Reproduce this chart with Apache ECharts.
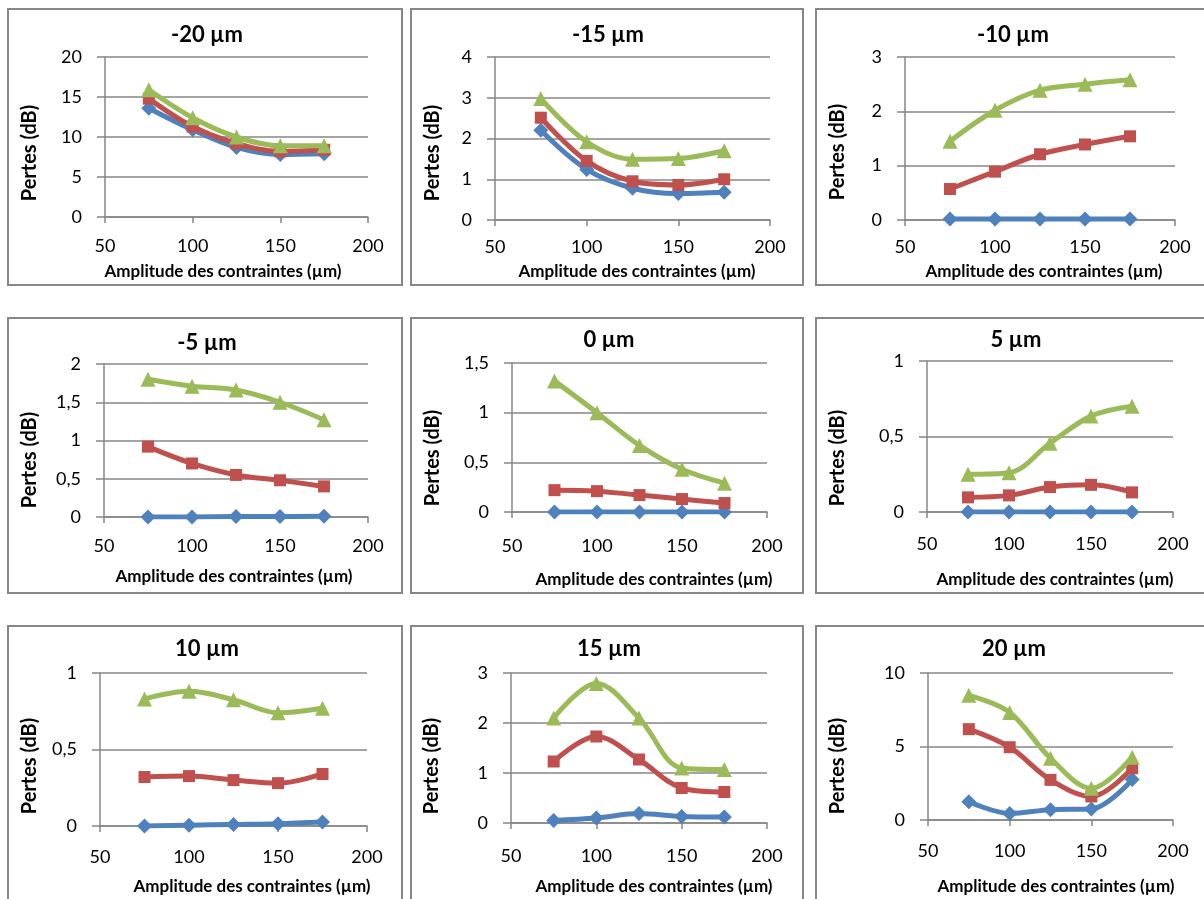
<!DOCTYPE html>
<html><head><meta charset="utf-8">
<script src="https://cdn.jsdelivr.net/npm/echarts@6/dist/echarts.min.js"></script>
<style>html,body{margin:0;padding:0;background:#fff}#c{width:1204px;height:899px}</style>
</head><body><div id="c"></div>
<script>
// ---------- data ----------
const amplitudes = [75, 100, 125, 150, 175];
const panelTitles = ['-20 µm', '-15 µm', '-10 µm', '-5 µm', '0 µm', '5 µm', '10 µm', '15 µm', '20 µm'];
const xMin = 50, xMax = 200, xStep = 50;
const yMax = [20, 4, 3, 2, 1.5, 1, 1, 3, 10];
const yStep = [5, 1, 1, 0.5, 0.5, 0.5, 0.5, 1, 5];
const yTitle = 'Pertes (dB)';
const xTitle = 'Amplitude des contraintes (µm)';

// each panel: [blue, red, green]
const loss_m20 = [[13.6, 10.9, 8.7, 7.8, 7.9], [14.8, 11.3, 9.2, 8.2, 8.4], [15.9, 12.4, 10.0, 8.9, 8.9]];
const loss_m15 = [[2.2, 1.24, 0.78, 0.65, 0.68], [2.51, 1.45, 0.95, 0.86, 1.0], [2.98, 1.92, 1.49, 1.51, 1.7]];
const loss_m10 = [[0.02, 0.02, 0.02, 0.02, 0.02], [0.57, 0.89, 1.21, 1.39, 1.54], [1.45, 2.02, 2.39, 2.5, 2.58]];
const loss_m5  = [[0.0, 0.0, 0.005, 0.005, 0.01], [0.92, 0.70, 0.55, 0.48, 0.40], [1.80, 1.71, 1.66, 1.50, 1.27]];
const loss_0   = [[0.0, 0.0, 0.0, 0.0, 0.0], [0.22, 0.21, 0.17, 0.13, 0.09], [1.32, 1.0, 0.67, 0.43, 0.29]];
const loss_5   = [[0.0, 0.0, 0.0, 0.0, 0.0], [0.097, 0.11, 0.165, 0.18, 0.13], [0.25, 0.26, 0.455, 0.635, 0.70]];
const loss_10  = [[0.0, 0.005, 0.01, 0.015, 0.026], [0.32, 0.326, 0.30, 0.28, 0.34], [0.83, 0.88, 0.825, 0.74, 0.77]];
const loss_15  = [[0.05, 0.1, 0.19, 0.13, 0.12], [1.23, 1.73, 1.27, 0.70, 0.62], [2.1, 2.79, 2.1, 1.1, 1.07]];
const loss_20  = [[1.25, 0.45, 0.7, 0.75, 2.75], [6.18, 4.95, 2.73, 1.6, 3.52], [8.48, 7.32, 4.2, 2.16, 4.27]];
const panels = [loss_m20, loss_m15, loss_m10, loss_m5, loss_0, loss_5, loss_10, loss_15, loss_20];

// ---------- style / layout ----------
const seriesColors = ['#4F81BD', '#C0504D', '#9BBB59'];
const seriesSymbols = ['diamond', 'rect', 'triangle'];
const seriesSymbolSizes = [15, 12, 15];
const FONT = 'Lato';
const GRAY = '#878787';

// plot areas [left, top, right, bottom]
const plotBoxes = [
  [105, 57, 368, 217], [495, 57, 770, 220], [905, 57, 1175, 220],
  [104, 364, 368, 517], [512, 363, 767, 512], [927, 361, 1173, 512],
  [100, 673, 367, 826], [511, 673, 767, 823], [928, 673, 1173, 820]
];
const frames = [
  [8, 9, 402, 285], [411, 9, 803, 285], [816, 9, 1212, 285],
  [8, 318, 402, 593], [411, 318, 803, 593], [816, 318, 1212, 593],
  [8, 626, 402, 912], [411, 626, 803, 912], [816, 626, 1212, 912]
];
const titlePos = [[202, 33], [603, 33], [1008, 33], [202, 341], [604, 338], [1011, 338], [202, 647], [604, 647], [1009, 647]];
const yTitlePos = [[30, 153], [433, 153], [838, 152], [30, 460], [433, 458], [838, 458], [30, 766], [432, 766], [838, 766]];
const xTitlePos = [[223, 272], [637, 272], [1044, 272], [234, 577], [654, 580], [1055, 580], [252, 887], [654, 887], [1056, 887]];
const xLabelMargin = [20, 18, 18, 20, 25, 23, 22, 24, 22];

const grids = [], xAxes = [], yAxes = [], series = [], titles = [], graphics = [];
panels.forEach((p, i) => {
  const b = plotBoxes[i];
  grids.push({ left: b[0], top: b[1], width: b[2] - b[0], height: b[3] - b[1], containLabel: false });
  xAxes.push({
    type: 'value', gridIndex: i, min: xMin, max: xMax, interval: xStep,
    axisLine: { show: true, onZero: false, lineStyle: { color: GRAY, width: 1.5 } },
    axisTick: { show: true, length: 6, lineStyle: { color: GRAY, width: 1.5 } },
    splitLine: { show: false },
    axisLabel: { color: '#000', fontFamily: FONT, fontSize: 18, margin: xLabelMargin[i] }
  });
  yAxes.push({
    type: 'value', gridIndex: i, min: 0, max: yMax[i], interval: yStep[i],
    axisLine: { show: true, lineStyle: { color: GRAY, width: 1.5 } },
    axisTick: { show: true, length: 8, lineStyle: { color: GRAY, width: 1.5 } },
    splitLine: { show: true, lineStyle: { color: GRAY, width: 1.5 } },
    axisLabel: { color: '#000', fontFamily: FONT, fontSize: 18, margin: 23,
      formatter: v => String(v).replace('.', ',') }
  });
  p.forEach((vals, k) => {
    series.push({
      type: 'line', xAxisIndex: i, yAxisIndex: i,
      data: amplitudes.map((x, j) => [x, vals[j]]),
      smooth: 0.35,
      symbol: seriesSymbols[k], symbolSize: seriesSymbolSizes[k],
      lineStyle: { color: seriesColors[k], width: 5 },
      itemStyle: { color: seriesColors[k], borderWidth: 0 },
      z: 2 + k, animation: false, silent: true
    });
  });
  titles.push({
    text: panelTitles[i], left: titlePos[i][0], top: titlePos[i][1] - 14, textAlign: 'center',
    textStyle: { fontFamily: FONT, fontWeight: 'bold', fontSize: 22, color: '#000' }
  });
  const f = frames[i];
  graphics.push({ type: 'rect', shape: { x: f[0], y: f[1], width: f[2] - f[0], height: f[3] - f[1] },
    style: { fill: 'none', stroke: GRAY, lineWidth: 2 }, z: 0, silent: true });
  graphics.push({ type: 'text', x: yTitlePos[i][0], y: yTitlePos[i][1], rotation: Math.PI / 2,
    style: { text: yTitle, fontFamily: FONT, fontWeight: 'bold', fontSize: 20, fill: '#000', align: 'center', verticalAlign: 'middle' } });
  graphics.push({ type: 'text', x: xTitlePos[i][0], y: xTitlePos[i][1],
    style: { text: xTitle, fontFamily: FONT, fontWeight: 'bold', fontSize: 17, fill: '#000', align: 'center', verticalAlign: 'middle' } });
});

const chart = echarts.init(document.getElementById('c'), null, { renderer: 'canvas' });
chart.setOption({
  backgroundColor: '#fff', animation: false,
  title: titles, grid: grids, xAxis: xAxes, yAxis: yAxes, series: series, graphic: graphics
});
</script></body></html>
